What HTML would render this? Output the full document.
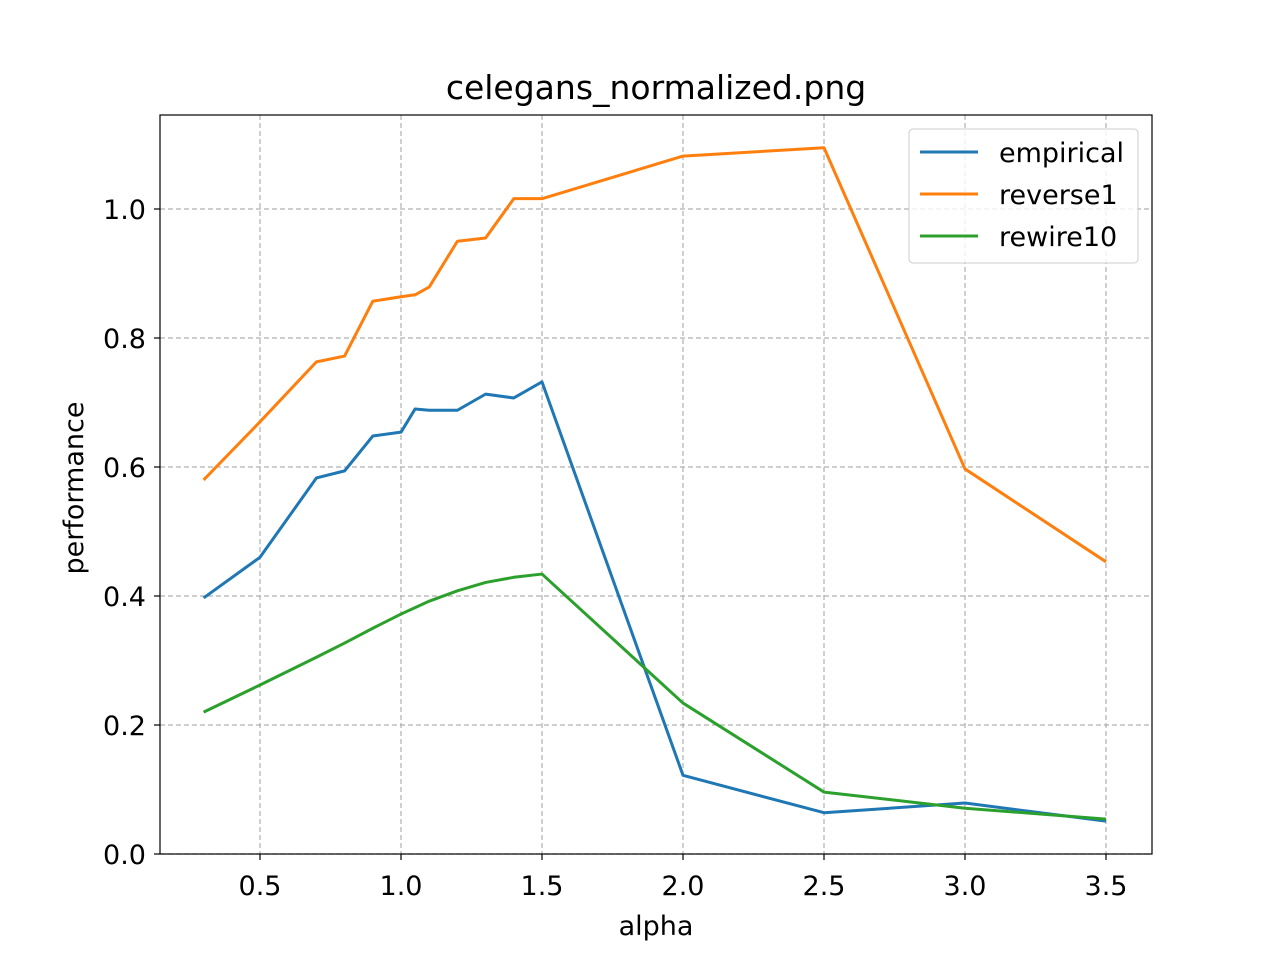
<!DOCTYPE html>
<html><head><meta charset="utf-8"><style>
body{margin:0;background:#fff;}
svg text{font-family:"DejaVu Sans","Liberation Sans",sans-serif;}
</style></head><body>
<svg id="chart" width="1280" height="960"></svg>
<script>
const xs=[0.3,0.5,0.7,0.8,0.9,1.0,1.05,1.1,1.2,1.3,1.4,1.5,2.0,2.5,3.0,3.5];
const empirical=[0.397,0.460,0.583,0.594,0.648,0.654,0.690,0.688,0.688,0.713,0.707,0.732,0.122,0.064,0.079,0.051];
const reverse1=[0.580,0.670,0.763,0.772,0.857,0.864,0.867,0.879,0.950,0.955,1.016,1.016,1.082,1.095,0.597,0.453];
const rewire10=[0.220,0.262,0.305,0.327,0.350,0.372,0.382,0.392,0.408,0.421,0.429,0.434,0.234,0.096,0.071,0.054];
const xTicks=[0.5,1.0,1.5,2.0,2.5,3.0,3.5];
const yTicks=[0.0,0.2,0.4,0.6,0.8,1.0];
const seriesNames=["empirical","reverse1","rewire10"];
const colors=["#1f77b4","#ff7f0e","#2ca02c"];

const L=160,R=1152,T=115,B=854;
const X=v=>260+(v-0.5)*282;
const Y=v=>854-v*645;
const svg=document.getElementById('chart');
const NS="http://www.w3.org/2000/svg";
function mk(tag,attrs,parent){const e=document.createElementNS(NS,tag);for(const k in attrs)e.setAttribute(k,attrs[k]);(parent||svg).appendChild(e);return e;}

const grid=mk('g',{});


xTicks.forEach(t=>{
  const l=mk('line',{x1:X(t),x2:X(t),y1:T,y2:B,stroke:'#b0b0b0','stroke-dasharray':'5,3','stroke-width':1.2},grid);
  
  
  const tk=mk('line',{x1:X(t),x2:X(t),y1:B,y2:B+6,stroke:'#000','stroke-width':1.2});
  
  
  const tx=mk('text',{x:X(t),y:B+41,'text-anchor':'middle','font-size':27});
  tx.textContent=t.toFixed(1);
  
  
});
yTicks.forEach(t=>{
  const l=mk('line',{x1:L,x2:R,y1:Y(t),y2:Y(t),stroke:'#b0b0b0','stroke-dasharray':'5,3','stroke-width':1.2},grid);
  
  
  const tk=mk('line',{x1:L-6,x2:L,y1:Y(t),y2:Y(t),stroke:'#000','stroke-width':1.2});
  
  
  const tx=mk('text',{x:L-14,y:Y(t)+10,'text-anchor':'end','font-size':27});
  tx.textContent=t.toFixed(1);
  
  
});

[empirical,reverse1,rewire10].forEach((d,i)=>{
  const p=mk('polyline',{points:xs.map((x,j)=>X(x)+','+Y(d[j])).join(' '),fill:'none',stroke:colors[i],'stroke-width':3,'stroke-linejoin':'round'});
  
  
});

const frame=mk('rect',{x:L,y:T,width:R-L,height:B-T,fill:'none',stroke:'#000','stroke-width':1.2});



const title=mk('text',{x:656,y:99,'text-anchor':'middle','font-size':33});
title.textContent='celegans_normalized.png';


const xl=mk('text',{x:656,y:935,'text-anchor':'middle','font-size':27});
xl.textContent='alpha';


const yl=mk('text',{x:0,y:0,'text-anchor':'middle','font-size':27,transform:'translate(83,488) rotate(-90)'});
yl.textContent='performance';



const lg=mk('g',{});


mk('rect',{x:909,y:129,width:229,height:134,rx:4,fill:'#fff','fill-opacity':0.8,stroke:'#ccc'},lg);
seriesNames.forEach((n,i)=>{
  const y=152+i*42;
  const ln=mk('line',{x1:920,x2:978,y1:y,y2:y,stroke:colors[i],'stroke-width':3},lg);
  
  
  const t=mk('text',{x:999,y:y+10,'font-size':27},lg);
  t.textContent=n;
  
  
});
</script>
</body></html>
